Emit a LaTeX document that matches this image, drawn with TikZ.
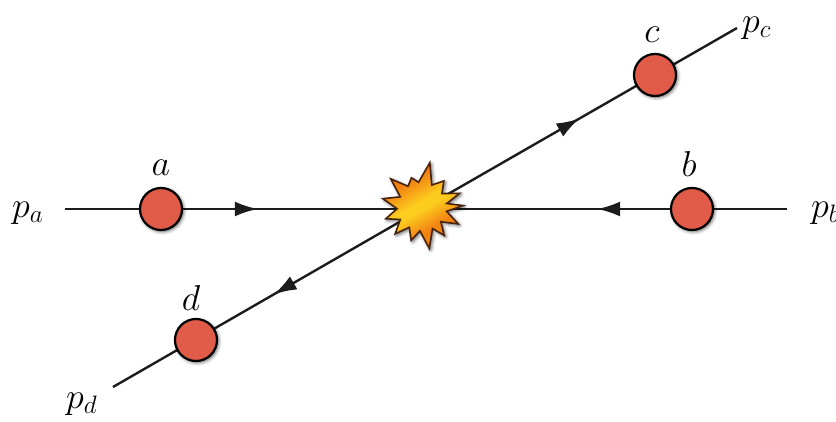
\RequirePackage{fix-cm}
\documentclass[tikz,border=0pt]{standalone}
\usetikzlibrary{arrows.meta,decorations.markings,shadows.blur}
\definecolor{ballred}{RGB}{224,92,72}
\definecolor{linegray}{RGB}{28,28,28}
\definecolor{flashred}{RGB}{234,80,22}
\definecolor{flashorange}{RGB}{242,132,18}
\definecolor{flashyellow}{RGB}{252,204,30}
\definecolor{flashrim}{RGB}{70,35,10}
\pgfdeclareverticalshading{flashshade}{100bp}{%
  color(0bp)=(flashorange); color(36bp)=(flashorange);
  color(48bp)=(flashyellow); color(53bp)=(flashyellow);
  color(66bp)=(flashorange); color(100bp)=(flashred)}
\begin{document}
\begin{tikzpicture}[x=1pt,y=-1pt,
  ball/.style={circle,draw=black,line width=2.2pt,fill=ballred,
    minimum size=42pt,inner sep=0pt,
    blur shadow={shadow xshift=1.5pt,shadow yshift=-1.5pt,
      shadow blur radius=3.5pt,shadow opacity=65}},
  lab/.style={font=\fontsize{36}{40}\selectfont,inner sep=0pt},
  leg/.style={draw=linegray,line width=2.4pt,postaction=decorate},
  tipat/.style={decoration={markings,
    mark=at position #1 with {\arrow{Latex[length=23pt,width=15pt]}}}},
  flash/.style={draw=flashrim,line width=1.6pt,line join=miter,
    shading=flashshade,shading angle=30,
    blur shadow={shadow xshift=1.5pt,shadow yshift=-1.5pt,
      shadow blur radius=3.5pt,shadow opacity=65}}
]
\useasboundingbox (0,0) rectangle (836,422);

% end points of the four legs and the interaction point
\coordinate (pa) at (65,209);
\coordinate (pb) at (787,209);
\coordinate (pc) at (737,28);
\coordinate (pd) at (113,387);
\coordinate (X) at (422,209);

% incoming and outgoing lines
\path[leg,tipat=0.54] (pa) -- (X);
\path[leg,tipat=0.52] (pb) -- (X);
\path[leg,tipat=0.50] (X) -- (pc);
\path[leg,tipat=0.48] (X) -- (pd);

% interaction flash
\path[flash,shift={(422,207)}]
  (-2:41) -- (10:25) -- (25:40) -- (38:24) -- (52:36) -- (64:24)
  -- (80:42) -- (95:24) -- (108:35) -- (122:24) -- (135:38)
  -- (150:25) -- (162:38) -- (176:25) -- (192:40) -- (205:24)
  -- (222:42) -- (236:25) -- (250:31) -- (262:25) -- (280:45)
  -- (294:24) -- (310:34) -- (326:24) -- (340:40) -- (352:25) -- cycle;

% particles
\node[ball] (a) at (161,209) {};
\node[ball] (b) at (692,209) {};
\node[ball] (c) at (655,75) {};
\node[ball] (d) at (196,340) {};

% labels
\node[lab] (la) at (161,168) {$a$};
\node[lab] (lb) at (689,164) {$b$};
\node[lab] (lc) at (652,35) {$c$};
\node[lab] (ld) at (191,298) {$d$};
\node[lab,anchor=west] (lpa) at (12,213) {$p_a$};
\node[lab,anchor=west] (lpb) at (811,213) {$p_b$};
\node[lab,anchor=west] (lpc) at (742,28) {$p_c$};
\node[lab,anchor=west] (lpd) at (66,404) {$p_d$};
\end{tikzpicture}
\end{document}
